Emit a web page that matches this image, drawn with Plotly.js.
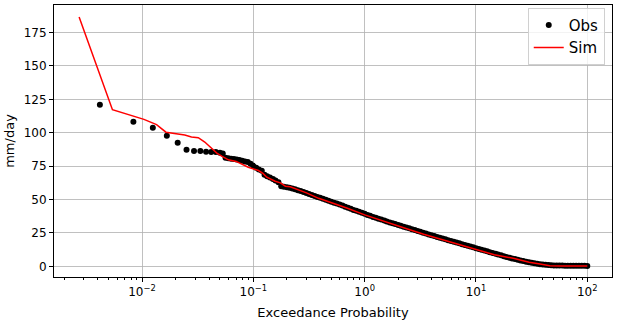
<!DOCTYPE html>
<html>
<head>
<meta charset="utf-8">
<script src="https://cdn.plot.ly/plotly-3.0.1.min.js"></script>
<style>
  html, body { margin: 0; padding: 0; background: white; }
  #fdc { width: 618px; height: 324px; }
</style>
</head>
<body>
<div id="fdc"></div>
<script>
// observed flow duration curve (exceedance %, mm/day)
var obsProb = [
  0.00418, 0.00836, 0.0125, 0.0167, 0.0209, 0.0251, 0.0293, 0.0334, 0.0376, 0.0418, 0.046,
  0.0501, 0.0531, 0.0562, 0.0596, 0.0631, 0.0668, 0.0708, 0.0750, 0.0794, 0.0841, 0.0891, 0.0944,
  0.100, 0.106, 0.112, 0.119, 0.126, 0.133, 0.141, 0.150, 0.158, 0.168, 0.178, 0.188,
  0.200, 0.211, 0.224, 0.237, 0.251, 0.266, 0.282, 0.299, 0.316, 0.335, 0.355, 0.376,
  0.398, 0.422, 0.447, 0.473, 0.501, 0.531, 0.562, 0.596, 0.631, 0.668, 0.708, 0.750,
  0.794, 0.841, 0.891, 0.944, 1.00, 1.06, 1.12, 1.19, 1.26, 1.33, 1.41, 1.50,
  1.58, 1.68, 1.78, 1.88, 2.00, 2.11, 2.24, 2.37, 2.51, 2.66, 2.82, 2.99,
  3.16, 3.35, 3.55, 3.76, 3.98, 4.22, 4.47, 4.73, 5.01, 5.31, 5.62, 5.96,
  6.31, 6.68, 7.08, 7.50, 7.94, 8.41, 8.91, 9.44, 10.0, 10.6, 11.2, 11.9,
  12.6, 13.3, 14.1, 15.0, 15.8, 16.8, 17.8, 18.8, 20.0, 21.1, 22.4, 23.7,
  25.1, 26.6, 28.2, 29.9, 31.6, 33.5, 35.5, 37.6, 39.8, 42.2, 44.7, 47.3,
  50.1, 53.1, 56.2, 59.6, 63.1, 66.8, 70.8, 75.0, 79.4, 84.1, 89.1, 94.4, 100
];
var obsFlow = [
  121.0, 108.2, 103.7, 97.7, 92.5, 87.2, 86.3, 86.3, 85.8, 85.5, 85.5,
  85.0, 84.5, 81.3, 80.8, 80.5, 80.3, 80.0, 79.5, 79.0, 78.5, 78.0, 76.8,
  75.2, 73.8, 72.5, 71.5, 68.5, 67.5, 66.5, 65.3, 64.3, 63.0, 60.0, 59.6,
  59.2, 58.8, 58.3, 57.7, 57.0, 56.3, 55.6, 54.9, 54.2, 53.4, 52.6, 51.9,
  51.3, 50.5, 49.8, 49.0, 48.3, 47.6, 47.0, 46.3, 45.5, 44.6, 43.8, 43.0,
  42.2, 41.5, 40.8, 40.0, 39.3, 38.5, 37.8, 37.0, 36.3, 35.6, 35.0, 34.2,
  33.5, 32.8, 32.2, 31.6, 31.0, 30.3, 29.7, 29.0, 28.4, 27.7, 27.1, 26.4,
  25.8, 25.1, 24.5, 23.9, 23.3, 22.6, 22.0, 21.4, 20.8, 20.2, 19.6, 19.0,
  18.4, 17.8, 17.2, 16.6, 16.0, 15.4, 14.8, 14.2, 13.6, 13.0, 12.4, 11.8,
  11.2, 10.6, 10.0, 9.4, 8.8, 8.2, 7.6, 7.0, 6.5, 5.9, 5.4, 4.9,
  4.4, 3.9, 3.4, 3.0, 2.6, 2.2, 1.9, 1.6, 1.3, 1.1, 0.9, 0.8,
  0.7, 0.65, 0.6, 0.55, 0.5, 0.5, 0.5, 0.45, 0.4, 0.4, 0.4, 0.35, 0.3
];

// simulated flow duration curve
var simProb = [
  0.00272, 0.00542, 0.0104, 0.0135, 0.0164, 0.0200, 0.0242, 0.0278, 0.0320, 0.0366,
  0.0410, 0.0470, 0.0520, 0.0596, 0.0700, 0.0800, 0.0900, 0.111, 0.122, 0.132,
  0.157, 0.175, 0.194, 0.214, 0.25, 0.30, 0.386, 0.546, 0.70, 1.0,
  1.38, 1.88, 2.5, 3.39, 5.0, 7.0, 10, 14.6, 21.6, 30,
  37.6, 46, 60, 100
];
var simFlow = [
  186.7, 117.2, 110.0, 106.1, 100.4, 99.6, 98.3, 96.8, 96.3, 93.0,
  89.5, 84.7, 82.5, 79.7, 78.5, 76.5, 74.2, 71.7, 69.5, 66.7,
  63.7, 62.5, 60.0, 59.5, 57.5, 55.0, 50.9, 46.7, 43.5, 38.5,
  34.5, 31.0, 27.5, 24.0, 19.8, 16.2, 12.8, 8.7, 6.0, 3.0,
  1.7, 0.5, 0.3, 0.3
];

var xTickVals = [0.01, 0.1, 1, 10, 100];
var xTickText = ['10<sup>\u22122</sup>', '10<sup>\u22121</sup>', '10<sup>0</sup>', '10<sup>1</sup>', '10<sup>2</sup>'];
var yTickVals = [0, 25, 50, 75, 100, 125, 150, 175];

// minor log ticks 2..9 in every decade
var minorVals = [];
[0.001, 0.01, 0.1, 1, 10, 100].forEach(function(d) {
  for (var k = 2; k <= 9; k++) minorVals.push(k * d);
});

var obs = {
  x: obsProb,
  y: obsFlow,
  name: 'Obs',
  type: 'scatter',
  mode: 'markers',
  marker: { color: 'black', size: 6 }
};

var sim = {
  x: simProb,
  y: simFlow,
  name: 'Sim',
  type: 'scatter',
  mode: 'lines',
  line: { color: '#ff0000', width: 1.5 }
};

var layout = {
  width: 618,
  height: 324,
  margin: { l: 54, r: 6, t: 5, b: 47 },
  font: { family: 'DejaVu Sans', size: 12, color: 'black' },
  plot_bgcolor: 'white',
  paper_bgcolor: 'white',
  showlegend: true,
  legend: {
    x: 0.987, y: 0.99, xanchor: 'right', yanchor: 'top',
    bgcolor: 'rgba(255,255,255,0.8)',
    bordercolor: '#d0d0d0',
    borderwidth: 1,
    font: { size: 15 }
  },
  xaxis: {
    type: 'log',
    range: [-2.791, 2.222],
    tickmode: 'array',
    tickvals: xTickVals,
    ticktext: xTickText,
    ticks: 'outside',
    ticklen: 4,
    tickcolor: 'black',
    showgrid: true,
    gridcolor: '#b0b0b0',
    gridwidth: 0.8,
    showline: true,
    mirror: true,
    linecolor: 'black',
    linewidth: 1,
    zeroline: false,
    minor: { tickmode: 'array', tickvals: minorVals, ticks: 'outside', ticklen: 2, tickcolor: 'black', showgrid: false },
    title: { text: 'Exceedance Probability', font: { size: 13 }, standoff: 9 }
  },
  yaxis: {
    range: [-8.0, 195.6],
    tickmode: 'array',
    tickvals: yTickVals,
    ticks: 'outside',
    ticklen: 4,
    tickcolor: 'black',
    showgrid: true,
    gridcolor: '#b0b0b0',
    gridwidth: 0.8,
    showline: true,
    mirror: true,
    linecolor: 'black',
    linewidth: 1,
    zeroline: false,
    title: { text: 'mm/day', font: { size: 13 }, standoff: 6 }
  }
};

Plotly.newPlot('fdc', [obs, sim], layout, { displayModeBar: false, staticPlot: true });
</script>
</body>
</html>
